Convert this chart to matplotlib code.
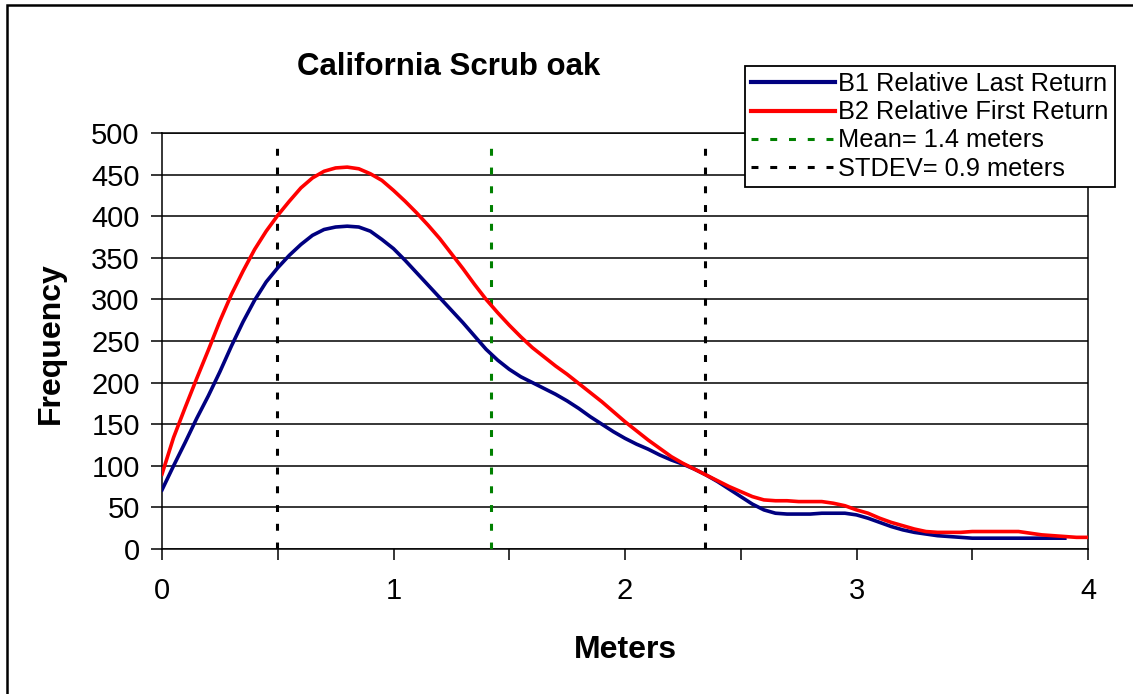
import matplotlib
matplotlib.use('Agg')
import numpy as np
import matplotlib.pyplot as plt
from matplotlib.patches import Rectangle

plt.rcParams['font.family'] = ['Liberation Sans', 'DejaVu Sans']
plt.rcParams['lines.scale_dashes'] = False

# Data (0.05 m steps)
meters = [0.00, 0.05, 0.10, 0.15, 0.20, 0.25, 0.30, 0.35, 0.40, 0.45,
          0.50, 0.55, 0.60, 0.65, 0.70, 0.75, 0.80, 0.85, 0.90, 0.95,
          1.00, 1.05, 1.10, 1.15, 1.20, 1.25, 1.30, 1.35, 1.40, 1.45,
          1.50, 1.55, 1.60, 1.65, 1.70, 1.75, 1.80, 1.85, 1.90, 1.95,
          2.00, 2.05, 2.10, 2.15, 2.20, 2.25, 2.30, 2.35, 2.40, 2.45,
          2.50, 2.55, 2.60, 2.65, 2.70, 2.75, 2.80, 2.85, 2.90, 2.95,
          3.00, 3.05, 3.10, 3.15, 3.20, 3.25, 3.30, 3.35, 3.40, 3.45,
          3.50, 3.55, 3.60, 3.65, 3.70, 3.75, 3.80, 3.85, 3.90, 3.95,
          4.00]

b2_first = [90, 134, 170, 205, 239, 274, 306, 334, 360, 382,
            401, 418, 434, 446, 454, 458, 459, 457, 451, 443,
            431, 418, 404, 389, 373, 355, 337, 318, 300, 284,
            269, 255, 242, 231, 220, 210, 199, 188, 177, 165,
            153, 142, 131, 121, 111, 103, 96, 89, 82, 75,
            69, 63, 59, 58, 58, 57, 57, 57, 55, 52,
            47, 43, 37, 32, 28, 24, 21, 20, 20, 20,
            21, 21, 21, 21, 21, 19, 17, 16, 15, 14,
            14]

b1_last = [71, 100, 128, 157, 184, 213, 244, 273, 299, 321,
           338, 353, 366, 377, 384, 387, 388, 387, 382, 372,
           361, 347, 332, 317, 302, 287, 272, 256, 240, 227,
           216, 207, 200, 193, 186, 178, 169, 159, 150, 141,
           133, 126, 120, 113, 107, 102, 96, 89, 81, 72,
           63, 54, 47, 43, 42, 42, 42, 43, 43, 43,
           41, 37, 32, 27, 23, 20, 18, 16, 15, 14,
           13, 13, 13, 13, 13, 13, 13, 13, 13]

mean_m = 1.42
stdev_m = 0.925
line_top = 490

labels = ['B1 Relative Last Return', 'B2 Relative First Return',
          'Mean= 1.4 meters', 'STDEV= 0.9 meters']

W, H = 1133, 694
fig = plt.figure(figsize=(W / 100, H / 100), dpi=100)
ax = fig.add_axes([162 / W, 1 - 549 / H, (1088 - 162) / W, (549 - 133) / H])

l1, = ax.plot(meters[:len(b1_last)], b1_last, color='#000080', lw=2.6,
              solid_joinstyle='round', zorder=4)
l2, = ax.plot(meters, b2_first, color='#ff0000', lw=2.6,
              solid_joinstyle='round', zorder=5)

dots = (0, (5, 8.5))
l3 = ax.vlines(mean_m, 0, line_top, colors='#008000', lw=2.2, linestyles=[dots], zorder=3)
l4 = ax.vlines([mean_m - stdev_m, mean_m + stdev_m], 0, line_top,
               colors='black', lw=2.2, linestyles=[dots], zorder=3)

ax.set_xlim(0, 4)
ax.set_ylim(0, 500)
ax.set_yticks(np.arange(0, 501, 50))
ax.set_xticks(np.arange(0, 4.01, 0.5))
ax.set_xticklabels(['0', '', '1', '', '2', '', '3', '', '4'])
ax.grid(axis='y', color='black', lw=1.1)
ax.tick_params(direction='out', length=8, width=1.1, labelsize=21, pad=8)
ax.tick_params(axis='x', pad=12)
for s in ax.spines.values():
    s.set_linewidth(1.1)

fig.text(449 / W, 1 - 67 / H, 'California Scrub oak', fontsize=22.5,
         fontweight='bold', ha='center', va='center')
fig.text(51 / W, 1 - 343 / H, 'Frequency', fontsize=23, fontweight='bold',
         rotation=90, ha='center', va='center')
fig.text(625 / W, 1 - 650 / H, 'Meters', fontsize=23, fontweight='bold',
         ha='center', va='center')

leg = fig.legend([l1, l2, l3, l4], labels, loc='upper left',
                 bbox_to_anchor=(745 / W, 1 - 66 / H), fontsize=18.3,
                 frameon=True, fancybox=False, framealpha=1, edgecolor='black',
                 handlelength=3.3, handletextpad=0.1, labelspacing=0.16,
                 borderpad=0.25, borderaxespad=0)
leg.get_frame().set_linewidth(1.3)
for h in leg.legend_handles[:2]:
    h.set_linewidth(3)

fig.add_artist(Rectangle((7 / W, -0.5), 2, 1.5 - 5 / H, transform=fig.transFigure,
                         fill=False, lw=1.8, edgecolor='black', clip_on=False))

fig.savefig('out.png', dpi=100)
